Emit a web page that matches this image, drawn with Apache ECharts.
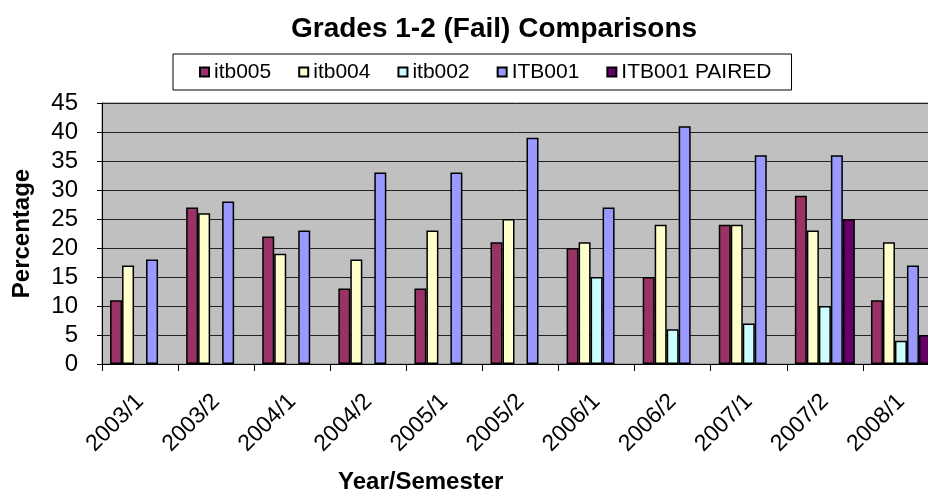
<!DOCTYPE html>
<html lang="en">
<head>
    <meta charset="UTF-8">
    <title>Grades 1-2 (Fail) Comparisons</title>
    <script src="https://cdn.jsdelivr.net/npm/echarts@6/dist/echarts.min.js"></script>
    <style>
        html, body { margin: 0; padding: 0; background: #fff; }
    </style>
</head>
<body>
<div id="main" style="width: 928px;height:493px;"></div>

<script>
    // 数据
    var semesters = ['2003/1', '2003/2', '2004/1', '2004/2', '2005/1', '2005/2',
        '2006/1', '2006/2', '2007/1', '2007/2', '2008/1'];
    var itb005 = [11, 27, 22, 13, 13, 21, 20, 15, 24, 29, 11];
    var itb004 = [17, 26, 19, 18, 23, 25, 21, 24, 24, 23, 21];
    var itb002 = ['-', '-', '-', '-', '-', '-', 15, 6, 7, 10, 4];
    var itb001 = [18, 28, 23, 33, 33, 39, 27, 41, 36, 36, 17];
    var itb001Paired = ['-', '-', '-', '-', '-', '-', '-', '-', '-', 25, 5];
    var seriesNames = ['itb005', 'itb004', 'itb002', 'ITB001', 'ITB001 PAIRED'];
    var seriesColors = ['#993366', '#FFFFCC', '#CCFFFF', '#9999FF', '#660066'];

    var myChart = echarts.init(document.getElementById('main'));
    var font = 'Liberation Sans, Arial, sans-serif';

    function bar(name, data, i) {
        return {
            name: name,
            type: 'bar',
            barWidth: 12,
            barGap: '0%',
            data: data,
            itemStyle: {color: seriesColors[i], borderColor: '#000', borderWidth: 1.5}
        }
    }

    var option = {
        animation: false,
        title: {
            text: 'Grades 1-2 (Fail) Comparisons',
            left: 286,
            top: 10,
            textStyle: {fontFamily: font, fontSize: 28, fontWeight: 'bold', color: '#000'}
        },
        legend: {
            data: seriesNames,
            left: 173,
            top: 54,
            padding: [7, 20, 7, 26],
            itemWidth: 9,
            itemHeight: 9,
            itemGap: 27,
            icon: 'rect',
            borderColor: '#000',
            borderWidth: 1,
            backgroundColor: '#fff',
            textStyle: {fontFamily: font, fontSize: 21, color: '#000', lineHeight: 22}
        },
        // 图表区超出画面右边界，和原图一样被裁掉
        grid: {
            left: 102,
            right: -11,
            top: 103,
            bottom: 129,
            outerBoundsMode: 'none',
            show: true,
            backgroundColor: '#C0C0C0',
            borderColor: '#808080',
            borderWidth: 1
        },
        xAxis: {
            type: 'category',
            data: semesters,
            axisLine: {lineStyle: {color: '#000', width: 1}},
            axisTick: {show: true, length: 7, lineStyle: {color: '#000'}},
            axisLabel: {
                rotate: 45,
                margin: 34,
                fontFamily: font,
                fontSize: 23,
                color: '#000'
            }
        },
        yAxis: {
            type: 'value',
            min: 0,
            max: 45,
            interval: 5,
            name: 'Percentage',
            nameLocation: 'middle',
            nameRotate: 90,
            nameGap: 68,
            nameTextStyle: {fontFamily: font, fontSize: 24, fontWeight: 'bold', color: '#000'},
            axisLine: {show: true, lineStyle: {color: '#000', width: 1}},
            axisTick: {show: true, length: 5, lineStyle: {color: '#000'}},
            axisLabel: {margin: 24, fontFamily: font, fontSize: 24, color: '#000'},
            splitLine: {lineStyle: {color: '#222', width: 1}}
        },
        graphic: [{
            type: 'text',
            left: 338,
            top: 470,
            style: {
                text: 'Year/Semester',
                font: 'bold 24px ' + font,
                fill: '#000'
            }
        }],
        series: [
            bar(seriesNames[0], itb005, 0),
            bar(seriesNames[1], itb004, 1),
            bar(seriesNames[2], itb002, 2),
            bar(seriesNames[3], itb001, 3),
            bar(seriesNames[4], itb001Paired, 4)
        ]
    };

    myChart.setOption(option);
</script>
</body>
</html>
